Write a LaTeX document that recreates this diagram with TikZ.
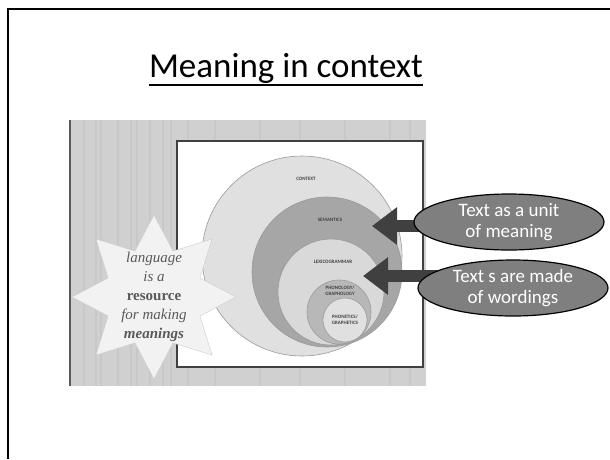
\documentclass[tikz,border=0pt]{standalone}
\usepackage{fontspec}
\setmainfont{Carlito}
\newfontfamily\starfont{Liberation Serif}
\usetikzlibrary{shapes.geometric}
\usetikzlibrary{arrows.meta}
\usetikzlibrary{positioning}
\pgfdeclarelayer{front}
\pgfsetlayers{main,front}
\definecolor{panelgray}{HTML}{D0D0D0}
\definecolor{stripegray}{HTML}{C8C8C8}
\definecolor{ringline}{HTML}{9A9A9A}
\definecolor{labelgray}{HTML}{404040}
\definecolor{bubblegray}{HTML}{7F7F7F}
\definecolor{arrowgray}{HTML}{404040}
\tikzset{every node/.style={align=center},
         ring/.style={          % the nested circles
           circle, draw=ringline, line width=0.6pt, inner sep=0pt},
         ringlabel/.style={
           font=\fontsize{5}{5.5}\selectfont\bfseries, text=labelgray, inner sep=0pt},
         bubble/.style={        % grey callouts on the right
           ellipse, draw=black, line width=1.2pt, fill=bubblegray, text=white,
           font=\fontsize{19}{21}\selectfont, inner sep=-2pt,
           minimum width=190pt, minimum height=56pt},
         blockarrow/.style={
           draw=arrowgray, line width=12pt, -{Triangle[length=25pt,width=36pt]}}}
\begin{document}
\begin{tikzpicture}[x=1pt,y=-1pt]
  \useasboundingbox (0,0) rectangle (610,459);

  % slide frame
  \draw[line width=2.2pt] (8,459) -- (8,9) -- (612,9);

  \node[font=\fontsize{35}{40}\selectfont, inner sep=0pt, anchor=base] (title) at (286,77) {Meaning in context};
  \draw[line width=2.4pt] ([yshift=-8pt]title.base west) -- ([yshift=-8pt]title.base east);

  % picture panel
  \fill[panelgray] (69,120) rectangle (426,386);
  \foreach \x in {84,96,101,118,131,137,150,163,171,188,215,260,300,345,390,410}
    \draw[stripegray, line width=1.2pt] (\x,120) -- (\x,386);
  \draw[gray!70!black, line width=1.6pt] (70,120) -- (70,386);
  \draw[fill=white, draw=black!75, line width=1.2pt] (177,141) rectangle (423,367);

  \node[ring, fill=black!12, minimum size=200pt] (context) at (302,256) {};
  \node[ring, fill=black!35, minimum size=150pt] (semantics) at (327,272) {};
  \node[ring, fill=black!15, minimum size=106pt] (lexis) at (331,292) {};
  \node[ring, fill=black!28, minimum size=64pt] (phonology) at (339,312) {};
  \node[ring, fill=black!12, minimum size=44pt] (phonetics) at (345,320) {};

  \node[ringlabel] (lcontext) at (306,179) {CONTEXT};
  \node[ringlabel] (lsemantics) at (330,220) {SEMANTICS};
  \node[ringlabel] (llexis) at (333,262) {LEXICOGRAMMAR};
  \node[ringlabel] (lphonology) at (340,291) {PHONOLOGY/\\GRAPHOLOGY};
  \node[ringlabel] (lphonetics) at (345,320) {PHONETICS/\\GRAPHETICS};

  \node[star, star points=8, star point ratio=1.65, minimum size=164pt, fill=black!5, draw=black!20] (star) at (154,297) {};
  \node[font=\starfont\fontsize{15}{19}\selectfont, text=black!65] (motto) at (star.center)
    {\itshape language\\ \itshape is a\\ \bfseries resource\\ \itshape for making\\ \bfseries\itshape meanings};

  \begin{pgfonlayer}{front}
    \node[bubble] (unit) at (509,222) {Text as a unit\\of meaning};
    \node[bubble] (wordings) at (513,288) {Text s are made\\of wordings};
  \end{pgfonlayer}

  \coordinate (semtip) at (372,226);
  \coordinate (lextip) at (363,276);
  \draw[blockarrow] (unit.center |- semtip) -- (semtip);
  \draw[blockarrow] (wordings.center |- lextip) -- (lextip);
\end{tikzpicture}
\end{document}
